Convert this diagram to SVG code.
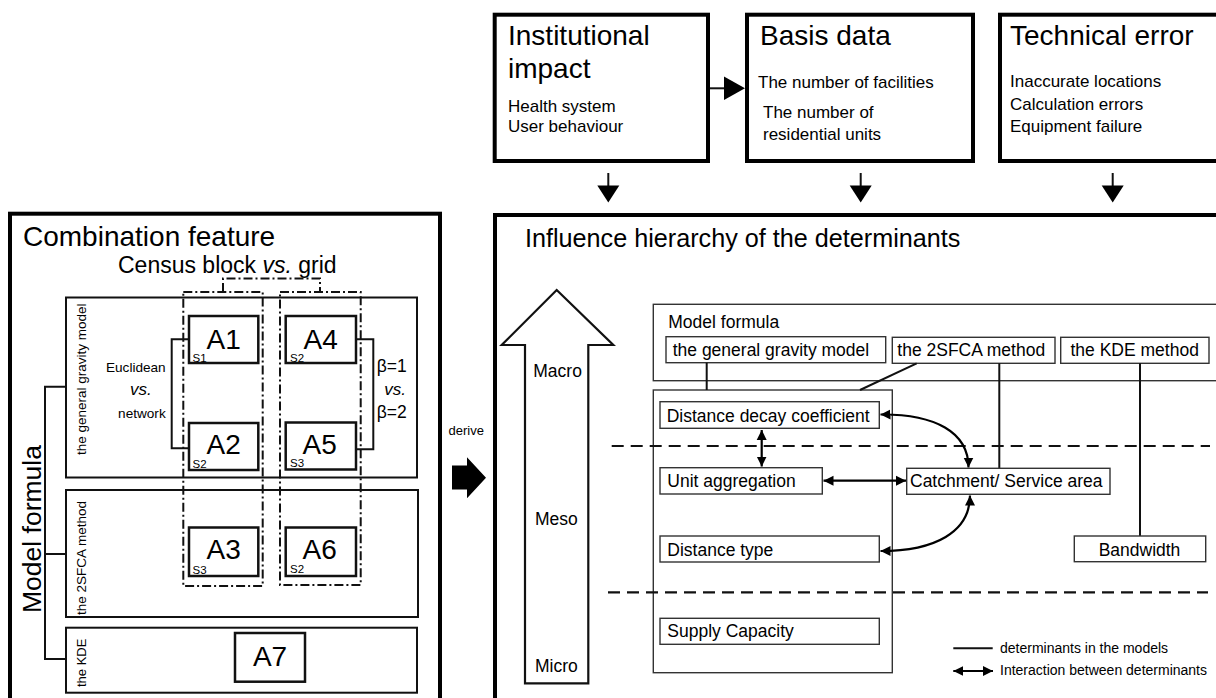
<svg xmlns="http://www.w3.org/2000/svg" width="1216" height="698" viewBox="0 0 1216 698">
  <style>
    text { font-family: "Liberation Sans", Arial, sans-serif; fill: #000; }
    .heavy { fill: #fff; stroke: #000; stroke-width: 4; }
    .box { fill: none; stroke: #111; stroke-width: 2; }
    .abox { fill: #fff; stroke: #111; stroke-width: 2.5; }
    .thin { fill: #fff; stroke: #333; stroke-width: 1.4; }
    .line { fill: none; stroke: #111; stroke-width: 2; }
    .dashdot { fill: none; stroke: #111; stroke-width: 2; stroke-dasharray: 9 3 2 3; }
    .dash { fill: none; stroke: #111; stroke-width: 2.2; stroke-dasharray: 12 7; }
    .inter { fill: none; stroke: #000; stroke-width: 2.2; marker-start: url(#head); marker-end: url(#head); }
    .title { font-size: 28px; }
    .item { font-size: 17px; }
    .det { font-size: 17.5px; }
    .alabel { font-size: 28px; }
    .slabel { font-size: 11.5px; }
  </style>
  <defs>
    <marker id="head" viewBox="0 0 10 10" refX="10" refY="5" markerUnits="userSpaceOnUse" markerWidth="10" markerHeight="11" orient="auto-start-reverse">
      <path d="M0 0 L10 5 L0 10 z" fill="#000"/>
    </marker>
  </defs>

  <!-- top row: sources of determinants -->
  <g id="institutional-impact">
    <rect class="heavy" x="494.7" y="14.7" width="213.3" height="146.3"/>
    <text class="title" x="508" y="45">Institutional</text>
    <text class="title" x="508" y="78">impact</text>
    <text class="item" x="508" y="112">Health system</text>
    <text class="item" x="508" y="132">User behaviour</text>
  </g>
  <g id="basis-data">
    <rect class="heavy" x="747" y="14.7" width="226" height="146.3"/>
    <text class="title" x="760" y="45">Basis data</text>
    <text class="item" x="758" y="87.5">The number of facilities</text>
    <text class="item" x="763" y="118">The number of</text>
    <text class="item" x="763" y="140">residential units</text>
  </g>
  <g id="technical-error">
    <rect class="heavy" x="1000" y="14.7" width="230" height="146.3"/>
    <text class="title" x="1010" y="45">Technical error</text>
    <text class="item" x="1010" y="87">Inaccurate locations</text>
    <text class="item" x="1010" y="109.5">Calculation errors</text>
    <text class="item" x="1010" y="132">Equipment failure</text>
  </g>

  <!-- left panel: combination feature -->
  <g id="combination-feature">
    <rect class="heavy" x="10" y="213.7" width="430" height="500"/>
    <text class="title" x="23" y="245.5">Combination feature</text>
    <text x="118" y="273" font-size="23">Census block <tspan font-style="italic">vs.</tspan> grid</text>
    <text font-size="26.5" transform="translate(41,613) rotate(-90)">Model formula</text>
  </g>
  <g id="gravity-model">
    <rect class="box" x="66" y="297.5" width="351" height="180"/>
    <text font-size="13.5" transform="translate(85.5,455) rotate(-90)">the general gravity model</text>
  </g>
  <g id="sfca-method">
    <rect class="box" x="66" y="490" width="352" height="127"/>
    <text font-size="13.5" transform="translate(85.5,615) rotate(-90)">the 2SFCA method</text>
  </g>
  <g id="kde">
    <rect class="box" x="66" y="627.7" width="351" height="65"/>
    <text font-size="13" transform="translate(85.5,687) rotate(-90)">the KDE</text>
  </g>

  <g id="census-block-column">
    <rect class="dashdot" x="183.3" y="292" width="79.4" height="294"/>
  </g>
  <g id="grid-column">
    <rect class="dashdot" x="280" y="292" width="80.7" height="293"/>
  </g>

  <g id="A1">
    <rect class="abox" x="189" y="316" width="69.3" height="47"/>
    <text class="alabel" x="206.5" y="349">A1</text>
    <text class="slabel" x="192.5" y="361.5">S1</text>
  </g>
  <g id="A2">
    <rect class="abox" x="189" y="423" width="69.3" height="47"/>
    <text class="alabel" x="206.5" y="453.5">A2</text>
    <text class="slabel" x="192.5" y="467.5">S2</text>
  </g>
  <g id="A3">
    <rect class="abox" x="189" y="527.5" width="69.3" height="48.5"/>
    <text class="alabel" x="206.5" y="558.5">A3</text>
    <text class="slabel" x="192.5" y="573.5">S3</text>
  </g>
  <g id="A4">
    <rect class="abox" x="285.7" y="316" width="70.3" height="47"/>
    <text class="alabel" x="303.5" y="349">A4</text>
    <text class="slabel" x="290" y="361.5">S2</text>
  </g>
  <g id="A5">
    <rect class="abox" x="285.7" y="422.5" width="70.3" height="47"/>
    <text class="alabel" x="302.5" y="453.5">A5</text>
    <text class="slabel" x="290" y="467">S3</text>
  </g>
  <g id="A6">
    <rect class="abox" x="285.7" y="527.5" width="70.3" height="48.5"/>
    <text class="alabel" x="302.5" y="558.5">A6</text>
    <text class="slabel" x="290" y="573">S2</text>
  </g>
  <g id="A7">
    <rect class="abox" x="235" y="633" width="70" height="48.7"/>
    <text class="alabel" x="270" y="665.5" text-anchor="middle">A7</text>
  </g>

  <g id="distance-labels">
    <text x="165.7" y="371.5" font-size="13.6" text-anchor="end">Euclidean</text>
    <text x="140.8" y="395" font-size="17" font-style="italic" text-anchor="middle">vs.</text>
    <text x="165.7" y="417.5" font-size="13.6" text-anchor="end">network</text>
  </g>
  <g id="beta-labels">
    <text x="376.7" y="371.5" font-size="17.5">β=1</text>
    <text x="395" y="395" font-size="17" font-style="italic" text-anchor="middle">vs.</text>
    <text x="376.7" y="417.5" font-size="17.5">β=2</text>
  </g>

  <!-- derive arrow between panels -->
  <g id="derive">
    <text x="448.5" y="435" font-size="13">derive</text>
    <path d="M452 465.5 H467 V457.3 L486 477.7 L467 498.3 V489.5 H452 Z" fill="#000"/>
  </g>

  <!-- right panel: influence hierarchy -->
  <g id="influence-hierarchy">
    <rect class="heavy" x="495" y="215" width="730" height="500"/>
    <text x="525" y="247.3" font-size="25.2">Influence hierarchy of the determinants</text>
  </g>
  <g id="scale-arrow">
    <path d="M556.7 290 L613.3 345 H588.3 V683.3 H525 V345 H501.7 Z" fill="#fff" stroke="#111" stroke-width="2.2" stroke-linejoin="miter"/>
    <text class="det" x="533.3" y="376.7">Macro</text>
    <text class="det" x="535" y="525">Meso</text>
    <text class="det" x="535" y="671.7">Micro</text>
  </g>
  <g id="model-formula">
    <rect class="thin" x="653.3" y="304.3" width="580" height="76.4"/>
    <text class="det" x="668.3" y="328.3">Model formula</text>
  </g>
  <g id="gravity-model-box">
    <rect class="thin" x="666" y="336.7" width="219.7" height="26"/>
    <text class="det" x="672.7" y="356">the general gravity model</text>
  </g>
  <g id="sfca-method-box">
    <rect class="thin" x="892.3" y="337.3" width="162.7" height="26"/>
    <text class="det" x="897.3" y="356">the 2SFCA method</text>
  </g>
  <g id="kde-method-box">
    <rect class="thin" x="1060.7" y="337.3" width="148.3" height="26"/>
    <text class="det" x="1070.5" y="356">the KDE method</text>
  </g>
  <g id="determinants">
    <rect class="thin" x="653.3" y="390" width="239" height="282.7"/>
  </g>

  <g id="connectors">
    <!-- top row flow -->
    <path class="line" d="M710 88.3 H726" stroke-width="2.2"/>
    <path d="M724 76.5 L745 88.3 L724 100 Z" fill="#000"/>
    <path class="line" d="M608.3 173 V188" stroke-width="2.2"/>
    <path d="M597.3 185.5 L619.3 185.5 L608.3 202.5 Z" fill="#000"/>
    <path class="line" d="M860.7 173 V188" stroke-width="2.2"/>
    <path d="M849.7 185.5 L871.7 185.5 L860.7 202.5 Z" fill="#000"/>
    <path class="line" d="M1112.7 173 V188" stroke-width="2.2"/>
    <path d="M1101.7 185.5 L1123.7 185.5 L1112.7 202.5 Z" fill="#000"/>

    <!-- left panel brackets -->
    <path class="line" d="M66 386.7 H45 V659 H66 M45 554 H66"/>
    <path class="dashdot" d="M223 292 V278.5 H320 V292"/>
    <path class="line" d="M189 339.3 H171.7 V448.3 H189"/>
    <path class="line" d="M356 339.3 H373.3 V449.3 H356"/>

    <!-- determinants in the models -->
    <path class="line" d="M706.7 362.7 V390" stroke-width="1.8"/>
    <path class="line" d="M916.7 363.3 L860 390" stroke-width="1.8"/>
    <path class="line" d="M999.3 363.3 V468.3" stroke-width="1.8"/>
    <path class="line" d="M1140 363.3 V536" stroke-width="1.8"/>

    <!-- level separators -->
    <path class="dash" d="M611.7 446 H1210"/>
    <path class="dash" d="M608 592.3 H1208"/>

    <!-- interactions between determinants -->
    <path class="inter" d="M761.7 430 V466.5"/>
    <path class="inter" d="M823.5 480.7 H906"/>
    <path class="inter" d="M880.5 414.5 C 935 414, 968.5 432, 968.5 467.5"/>
    <path class="inter" d="M970 495.5 C 970 532, 935 551, 880.5 551"/>

    <!-- legend strokes -->
    <path class="line" d="M953.3 648.3 H992.7" stroke-width="2.2"/>
    <path class="inter" d="M953.3 671 H993"/>
  </g>

  <g id="distance-decay">
    <rect class="thin" x="660" y="401.7" width="219.3" height="26.6"/>
    <text class="det" x="666.7" y="421.5">Distance decay coefficient</text>
  </g>
  <g id="unit-aggregation">
    <rect class="thin" x="660" y="467.7" width="162.3" height="26.3"/>
    <text class="det" x="667.3" y="487.3">Unit aggregation</text>
  </g>
  <g id="distance-type">
    <rect class="thin" x="660" y="536" width="219.3" height="26"/>
    <text class="det" x="667.3" y="556">Distance type</text>
  </g>
  <g id="supply-capacity">
    <rect class="thin" x="660" y="618.3" width="219.3" height="26"/>
    <text class="det" x="667.3" y="636.7">Supply Capacity</text>
  </g>
  <g id="catchment">
    <rect class="thin" x="906.7" y="468.3" width="203.3" height="26"/>
    <text class="det" x="910" y="486.7">Catchment/ Service area</text>
  </g>
  <g id="bandwidth">
    <rect class="thin" x="1074.3" y="536" width="131.4" height="25.7"/>
    <text class="det" x="1139.5" y="556" text-anchor="middle">Bandwidth</text>
  </g>

  <g id="legend">
    <text x="1000" y="653.3" font-size="14">determinants in the models</text>
    <text x="1000" y="675" font-size="14">Interaction between determinants</text>
  </g>
</svg>
